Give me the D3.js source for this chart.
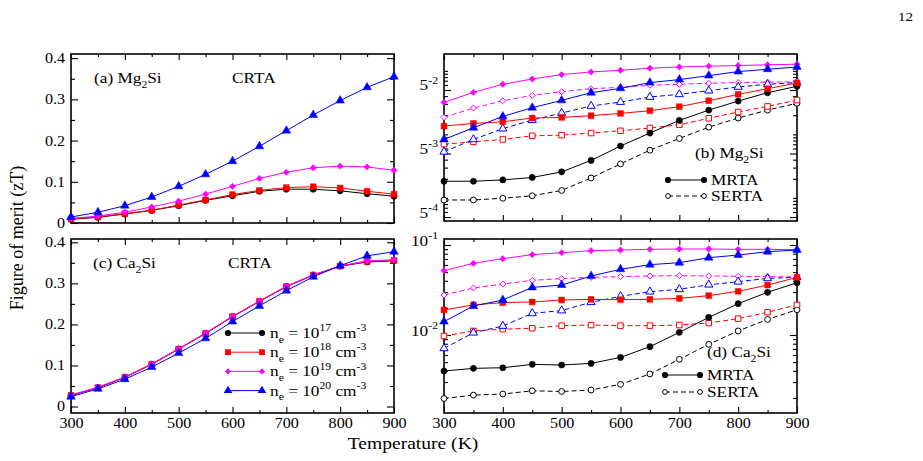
<!DOCTYPE html>
<html lang="en">
<head>
<meta charset="UTF-8" />
<title>Figure of merit (zT) of Mg2Si and Ca2Si</title>
<script src="https://d3js.org/d3.v7.min.js"></script>
<style>
  body { margin: 0; background: #fff; }
  svg { display: block; font-family: "Liberation Serif", "Times New Roman", Tinos, serif; }
</style>
</head>
<body>
<svg id="chart" width="923" height="461"></svg>
<script>
const temps = [300, 350, 400, 450, 500, 550, 600, 650, 700, 750, 800, 850, 900];

// (a) Mg2Si, CRTA
const mgCrta17 = [0.009, 0.0137, 0.0218, 0.0306, 0.042, 0.055, 0.066, 0.077, 0.082, 0.082, 0.078, 0.071, 0.065];
const mgCrta18 = [0.010, 0.0145, 0.0226, 0.031, 0.0435, 0.056, 0.069, 0.079, 0.086, 0.088, 0.085, 0.077, 0.070];
const mgCrta19 = [0.011, 0.017, 0.026, 0.039, 0.053, 0.070, 0.089, 0.108, 0.123, 0.134, 0.138, 0.136, 0.128];
const mgCrta20 = [0.0145, 0.026, 0.042, 0.063, 0.089, 0.118, 0.150, 0.186, 0.224, 0.262, 0.297, 0.329, 0.355];

// (c) Ca2Si, CRTA
const caCrta17 = [0.027, 0.046, 0.071, 0.103, 0.140, 0.178, 0.219, 0.256, 0.292, 0.320, 0.342, 0.352, 0.355];
const caCrta18 = [0.027, 0.046, 0.071, 0.103, 0.140, 0.178, 0.219, 0.256, 0.292, 0.320, 0.342, 0.353, 0.356];
const caCrta19 = [0.028, 0.047, 0.072, 0.104, 0.141, 0.179, 0.220, 0.257, 0.293, 0.321, 0.342, 0.355, 0.357];
const caCrta20 = [0.024, 0.043, 0.0665, 0.096, 0.130, 0.166, 0.207, 0.245, 0.282, 0.316, 0.343, 0.367, 0.377];

// (b) Mg2Si, MRTA (solid) and SERTA (dashed)
const mgMrta17 = [0.00183, 0.00183, 0.00192, 0.0021, 0.00257, 0.00389, 0.00656, 0.0105, 0.0166, 0.0241, 0.0335, 0.0453, 0.0571];
const mgMrta18 = [0.0135, 0.0149, 0.0158, 0.0181, 0.0185, 0.0197, 0.0214, 0.0236, 0.0273, 0.0339, 0.0427, 0.0524, 0.0645];
const mgMrta19 = [0.0319, 0.0459, 0.0615, 0.0745, 0.0874, 0.0962, 0.1022, 0.110, 0.1155, 0.1185, 0.1214, 0.1245, 0.1275];
const mgMrta20 = [0.00833, 0.0127, 0.0192, 0.0263, 0.0343, 0.0453, 0.0531, 0.0653, 0.0729, 0.0842, 0.0974, 0.106, 0.115];
const mgSerta17 = [0.000928, 0.000928, 0.000988, 0.00108, 0.00131, 0.00206, 0.00343, 0.00564, 0.00862, 0.0130, 0.0181, 0.0241, 0.0309];
const mgSerta18 = [0.00702, 0.00763, 0.00833, 0.0095, 0.00973, 0.0105, 0.0114, 0.0126, 0.0142, 0.0179, 0.0225, 0.0276, 0.0347];
const mgSerta19 = [0.0185, 0.026, 0.0339, 0.0412, 0.047, 0.0524, 0.0551, 0.0592, 0.0615, 0.0638, 0.0655, 0.0664, 0.0673];
const mgSerta20 = [0.00532, 0.00833, 0.0123, 0.0168, 0.0217, 0.028, 0.0323, 0.0388, 0.0427, 0.0488, 0.0558, 0.0615, 0.0655];

// (d) Ca2Si, MRTA (solid) and SERTA (dashed)
const caMrta17 = [0.00398, 0.00426, 0.00433, 0.00472, 0.00464, 0.00484, 0.00564, 0.00742, 0.0107, 0.0157, 0.0223, 0.0298, 0.0381];
const caMrta18 = [0.019, 0.0216, 0.0229, 0.0233, 0.0245, 0.0249, 0.0247, 0.0249, 0.0255, 0.0274, 0.0306, 0.0359, 0.0437];
const caMrta19 = [0.0519, 0.0626, 0.0705, 0.0781, 0.0822, 0.0865, 0.088, 0.0895, 0.0903, 0.0903, 0.0895, 0.0895, 0.0888];
const caMrta20 = [0.0141, 0.021, 0.0245, 0.0338, 0.0359, 0.0452, 0.0537, 0.0605, 0.0636, 0.0723, 0.0774, 0.0843, 0.088];
const caSerta17 = [0.00197, 0.00215, 0.00221, 0.0024, 0.00236, 0.00245, 0.00283, 0.00369, 0.00537, 0.00788, 0.0111, 0.0149, 0.0191];
const caSerta18 = [0.00975, 0.0111, 0.0116, 0.0119, 0.0127, 0.0129, 0.0127, 0.0127, 0.0129, 0.0136, 0.0152, 0.0179, 0.0216];
const caSerta19 = [0.0278, 0.0333, 0.0369, 0.0405, 0.0423, 0.0437, 0.0445, 0.0453, 0.0457, 0.0453, 0.0449, 0.0445, 0.0441];
const caSerta20 = [0.00711, 0.0106, 0.0126, 0.0174, 0.0187, 0.0231, 0.0269, 0.0303, 0.0322, 0.0362, 0.0391, 0.0426, 0.0437];

const exponents = [17, 18, 19, 20];
const colors = ['#000000', '#ff0000', '#ff00ff', '#0000ff'];
const xMajor = [300, 400, 500, 600, 700, 800, 900];
const xMinor = [350, 450, 550, 650, 750, 850];
const linMajor = [0, 0.1, 0.2, 0.3, 0.4];
const linMinor = [0.05, 0.15, 0.25, 0.35];

const SX = 1.15; // the figure is stretched sideways
const svg = d3.select('#chart');

const diamond = {
  draw(ctx, size) {
    const r = Math.sqrt(size / 2);
    ctx.moveTo(0, -r); ctx.lineTo(r, 0); ctx.lineTo(0, r); ctx.lineTo(-r, 0); ctx.closePath();
  }
};
const markers = [
  { type: d3.symbolCircle, size: 30 },
  { type: d3.symbolSquare, size: 34 },
  { type: diamond, size: 20 },
  { type: d3.symbolTriangle, size: 32 }
];

const xLeft = d3.scaleLinear().domain([300, 900]).range([71, 394]);
const xRight = d3.scaleLinear().domain([300, 900]).range([444, 797]);
const yA = d3.scaleLinear().domain([0, 0.41]).range([223, 54]);
const yC = d3.scaleLinear().domain([-0.0158, 0.408]).range([413, 239]);
const yB = d3.scaleLog().domain([4.33e-4, 0.1843]).range([221, 54]);
const yD = d3.scaleLog().domain([1.36e-3, 0.1166]).range([413, 239]);

// rich text: parts = [[string, 'n' | 'sub' | 'sup'], ...]
function rich(sel, parts, size) {
  let off = 0;
  parts.forEach(([s, kind]) => {
    const target = kind === 'sub' ? 0.32 * size : kind === 'sup' ? -0.45 * size : 0;
    sel.append('tspan')
      .attr('dy', target - off)
      .attr('font-size', kind === 'n' ? size : size * 0.68)
      .text(s);
    off = target;
  });
  return sel;
}

function label(x, y, parts, size, anchor) {
  const t = svg.append('text')
    .attr('class', 'stretch')
    .attr('x', x).attr('y', y)
    .attr('font-size', size)
    .attr('text-anchor', anchor || 'start');
  return rich(t, parts, size);
}

function tickAxis(g, axis) {
  g.call(axis);
  g.attr('font-family', null).attr('font-size', 14);
  g.select('.domain').remove();
  g.selectAll('line').attr('stroke-width', 1.1);
  g.selectAll('text').attr('class', 'stretch').attr('fill', '#000');
  return g;
}

function frame(x, y, opts) {
  const [x0, x1] = x.range();
  const [y0, y1] = y.range();
  const g = svg.append('g');

  // x ticks, bottom and top
  tickAxis(g.append('g').attr('transform', `translate(0,${y0})`),
    d3.axisBottom(x).tickValues(xMajor).tickSizeInner(-6).tickSizeOuter(0).tickPadding(5)
      .tickFormat(opts.xLabels ? d3.format('d') : () => ''));
  tickAxis(g.append('g').attr('transform', `translate(0,${y0})`),
    d3.axisBottom(x).tickValues(xMinor).tickSizeInner(-3).tickSizeOuter(0).tickFormat(() => ''));
  tickAxis(g.append('g').attr('transform', `translate(0,${y1})`),
    d3.axisTop(x).tickValues(xMajor).tickSizeInner(-6).tickSizeOuter(0).tickFormat(() => ''));
  tickAxis(g.append('g').attr('transform', `translate(0,${y1})`),
    d3.axisTop(x).tickValues(xMinor).tickSizeInner(-3).tickSizeOuter(0).tickFormat(() => ''));

  // y ticks, left and right
  const yg = tickAxis(g.append('g').attr('transform', `translate(${x0},0)`),
    d3.axisLeft(y).tickValues(opts.yMajor).tickSizeInner(-7).tickSizeOuter(0).tickPadding(6)
      .tickFormat(opts.yFormat));
  tickAxis(g.append('g').attr('transform', `translate(${x0},0)`),
    d3.axisLeft(y).tickValues(opts.yMinor).tickSizeInner(-4).tickSizeOuter(0).tickFormat(() => ''));
  tickAxis(g.append('g').attr('transform', `translate(${x1},0)`),
    d3.axisRight(y).tickValues(opts.yMajor).tickSizeInner(-7).tickSizeOuter(0).tickFormat(() => ''));
  tickAxis(g.append('g').attr('transform', `translate(${x1},0)`),
    d3.axisRight(y).tickValues(opts.yMinor).tickSizeInner(-4).tickSizeOuter(0).tickFormat(() => ''));

  // log labels: base with a raised exponent
  if (opts.powerBase) {
    yg.selectAll('text').each(function () {
      const exp = this.textContent;
      const t = d3.select(this).text(null);
      rich(t, [[opts.powerBase, 'n'], [exp, 'sup']], 15);
    });
  }

  g.append('rect')
    .attr('x', x0).attr('y', y1)
    .attr('width', x1 - x0).attr('height', y0 - y1)
    .attr('fill', 'none').attr('stroke', '#000').attr('stroke-width', 1.6);
}

function series(x, y, vals, color, marker, open, dashed) {
  const pts = temps.map((t, i) => [t, vals[i]]);
  const g = svg.append('g');
  g.append('path').datum(pts)
    .attr('d', d3.line().x(d => x(d[0])).y(d => y(d[1])))
    .attr('fill', 'none')
    .attr('stroke', color)
    .attr('stroke-width', 1)
    .attr('stroke-dasharray', dashed ? '5,3' : null);
  g.selectAll('path.m').data(pts).join('path')
    .attr('class', 'm')
    .attr('transform', d => `translate(${x(d[0])},${y(d[1])})`)
    .attr('d', d3.symbol(marker.type, open ? marker.size * 0.9 : marker.size))
    .attr('fill', open ? '#fff' : color)
    .attr('stroke', color)
    .attr('stroke-width', open ? 1 : 0.5);
}

function logMinor(y, majorMantissa) {
  const [lo, hi] = y.domain();
  const out = [];
  for (let k = -5; k <= 0; k++) {
    for (let m = 1; m <= 9; m++) {
      const v = m * Math.pow(10, k);
      if (m !== majorMantissa && v >= lo && v <= hi) out.push(v);
    }
  }
  return out;
}

const linFormat = d => d === 0 ? '0' : d3.format('.1f')(d);

frame(xLeft, yA, { xLabels: false, yMajor: linMajor, yMinor: linMinor, yFormat: linFormat });
frame(xLeft, yC, { xLabels: true, yMajor: linMajor, yMinor: linMinor, yFormat: linFormat });
frame(xRight, yB, {
  xLabels: false, yMajor: [5e-2, 5e-3, 5e-4], yMinor: logMinor(yB, 5),
  yFormat: d => '-' + Math.round(-Math.log10(d / 5)), powerBase: '5'
});
frame(xRight, yD, {
  xLabels: true, yMajor: [1e-1, 1e-2], yMinor: logMinor(yD, 1),
  yFormat: d => '-' + Math.round(-Math.log10(d)), powerBase: '10'
});

[mgCrta17, mgCrta18, mgCrta19, mgCrta20].forEach((v, i) =>
  series(xLeft, yA, v, colors[i], markers[i], false, false));
[caCrta17, caCrta18, caCrta19, caCrta20].forEach((v, i) =>
  series(xLeft, yC, v, colors[i], markers[i], false, false));

[mgSerta17, mgSerta18, mgSerta19, mgSerta20].forEach((v, i) =>
  series(xRight, yB, v, colors[i], markers[i], true, true));
[mgMrta17, mgMrta18, mgMrta19, mgMrta20].forEach((v, i) =>
  series(xRight, yB, v, colors[i], markers[i], false, false));
[caSerta17, caSerta18, caSerta19, caSerta20].forEach((v, i) =>
  series(xRight, yD, v, colors[i], markers[i], true, true));
[caMrta17, caMrta18, caMrta19, caMrta20].forEach((v, i) =>
  series(xRight, yD, v, colors[i], markers[i], false, false));

// panel labels
label(94, 83, [['(a)  Mg', 'n'], ['2', 'sub'], ['Si', 'n']], 15);
label(232, 83, [['CRTA', 'n']], 15);
label(93, 268, [['(c)  Ca', 'n'], ['2', 'sub'], ['Si', 'n']], 15);
label(228, 268, [['CRTA', 'n']], 15);
label(695, 158, [['(b)  Mg', 'n'], ['2', 'sub'], ['Si', 'n']], 15);
label(707, 357, [['(d)  Ca', 'n'], ['2', 'sub'], ['Si', 'n']], 15);

// legend (c): carrier concentrations
exponents.forEach((e, i) => {
  const ly = 333 + i * 19.2;
  svg.append('line').attr('x1', 228).attr('x2', 262).attr('y1', ly).attr('y2', ly)
    .attr('stroke', colors[i]).attr('stroke-width', 1);
  svg.selectAll(null).data([228, 262]).join('path')
    .attr('transform', d => `translate(${d},${ly})`)
    .attr('d', d3.symbol(markers[i].type, markers[i].size))
    .attr('fill', colors[i]);
  label(270, ly + 5, [['n', 'n'], ['e', 'sub'], [' = 10', 'n'], [String(e), 'sup'], [' cm', 'n'], ['-3', 'sup']], 15);
});

// legends (b) and (d): relaxation-time approximations
function rtaLegend(x1, x2, yM, yS) {
  svg.append('line').attr('x1', x1).attr('x2', x2).attr('y1', yM).attr('y2', yM)
    .attr('stroke', '#000').attr('stroke-width', 1);
  svg.append('line').attr('x1', x1).attr('x2', x2).attr('y1', yS).attr('y2', yS)
    .attr('stroke', '#000').attr('stroke-width', 1).attr('stroke-dasharray', '5,3');
  [x1, x2].forEach(px => {
    svg.append('path').attr('transform', `translate(${px},${yM})`)
      .attr('d', d3.symbol(d3.symbolCircle, 30)).attr('fill', '#000');
    svg.append('path').attr('transform', `translate(${px},${yS})`)
      .attr('d', d3.symbol(d3.symbolCircle, 18)).attr('fill', '#fff').attr('stroke', '#000');
  });
  label(x2 + 7, yM + 5, [['MRTA', 'n']], 15);
  label(x2 + 7, yS + 5, [['SERTA', 'n']], 15);
}
rtaLegend(668, 704, 180, 196);
rtaLegend(665, 700, 375, 392);

// axis titles and page number
svg.append('text')
  .attr('transform', 'translate(23,238) rotate(-90)')
  .attr('text-anchor', 'middle')
  .attr('font-size', 18)
  .text('Figure of merit (zT)');
label(413, 449, [['Temperature (K)', 'n']], 17, 'middle');
label(913, 21, [['12', 'n']], 13, 'end');

// widen text to the sideways stretch of the original figure
svg.selectAll('text.stretch').each(function () {
  const w = this.getComputedTextLength();
  if (w > 0) {
    d3.select(this).attr('textLength', w * SX).attr('lengthAdjust', 'spacingAndGlyphs');
  }
});
</script>
</body>
</html>
